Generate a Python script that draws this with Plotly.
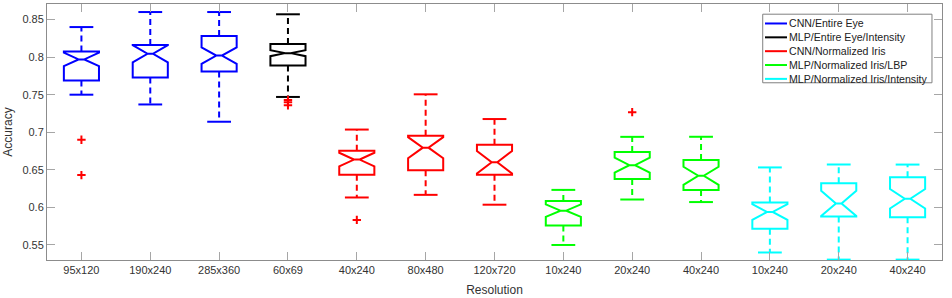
import plotly.graph_objects as go

# ---- data ----
tick_labels = ["95x120", "190x240", "285x360", "60x69", "40x240", "80x480", "120x720",
               "10x240", "20x240", "40x240", "10x240", "20x240", "40x240"]
groups = ["CNN/Entire Eye", "MLP/Entire Eye/Intensity", "CNN/Normalized Iris",
          "MLP/Normalized Iris/LBP", "MLP/Normalized Iris/Intensity"]
group_of_box = [0, 0, 0, 1, 2, 2, 2, 3, 3, 3, 4, 4, 4]
group_colors = ["#0000ff", "#000000", "#ff0000", "#00ff00", "#00ffff"]

upper_whisker = [0.840, 0.860, 0.860, 0.857, 0.7036, 0.7505, 0.7176, 0.6233, 0.6939, 0.694, 0.6532, 0.6571, 0.657]
q3_vals       = [0.8075, 0.816, 0.828, 0.8176, 0.6755, 0.6953, 0.6834, 0.6084, 0.6737, 0.6632, 0.6066, 0.6321, 0.640]
medians       = [0.797, 0.8045, 0.802, 0.8053, 0.6637, 0.6795, 0.6601, 0.5957, 0.6562, 0.6421, 0.5939, 0.6053, 0.6115]
q1_vals       = [0.769, 0.773, 0.781, 0.7887, 0.6434, 0.6496, 0.6434, 0.5759, 0.6378, 0.6233, 0.5716, 0.5878, 0.5868]
lower_whisker = [0.750, 0.737, 0.714, 0.747, 0.6132, 0.6167, 0.6036, 0.550, 0.6105, 0.6071, 0.540, 0.5305, 0.5305]
notch_spans   = [0.009, 0.0114, 0.011, 0.004, 0.009, 0.014, 0.015, 0.0083, 0.010, 0.012, 0.0105, 0.0167, 0.013]
outliers      = [[0.690, 0.643], [], [], [0.743, 0.740, 0.736], [0.5834], [], [], [], [0.7268], [], [], [], []]

y_ticks = [0.55, 0.6, 0.65, 0.7, 0.75, 0.8, 0.85]
y_tick_text = ["0.55", "0.6", "0.65", "0.7", "0.75", "0.8", "0.85"]

positions = list(range(1, len(tick_labels) + 1))

FONT = "Liberation Sans, Arial, sans-serif"

fig = go.Figure()

for g, (name, color) in enumerate(zip(groups, group_colors)):
    idx = [i for i, gb in enumerate(group_of_box) if gb == g]
    px = [positions[i] for i in idx]
    fig.add_trace(go.Box(
        x=px,
        q1=[q1_vals[i] for i in idx],
        median=[medians[i] for i in idx],
        q3=[q3_vals[i] for i in idx],
        lowerfence=[q1_vals[i] for i in idx],
        upperfence=[q3_vals[i] for i in idx],
        notchspan=[notch_spans[i] for i in idx],
        notched=True, notchwidth=0.42, width=0.51, whiskerwidth=0,
        line=dict(color=color, width=2), fillcolor="rgba(0,0,0,0)",
        boxpoints=False, hoverinfo="skip", showlegend=False,
    ))
    # dashed whiskers
    wx, wy = [], []
    for i in idx:
        wx += [positions[i], positions[i], None, positions[i], positions[i], None]
        wy += [q3_vals[i], upper_whisker[i], None, q1_vals[i], lower_whisker[i], None]
    fig.add_trace(go.Scatter(x=wx, y=wy, mode="lines",
                             line=dict(color=color, width=2, dash="6px,4px"),
                             hoverinfo="skip", showlegend=False))
    # whisker caps
    fig.add_trace(go.Scatter(
        x=px + px,
        y=[upper_whisker[i] for i in idx] + [lower_whisker[i] for i in idx],
        mode="markers",
        marker=dict(symbol="line-ew", size=17, line=dict(color=color, width=2)),
        hoverinfo="skip", showlegend=False, cliponaxis=False))

# outliers
ox, oy = [], []
for p, outs in zip(positions, outliers):
    for v in outs:
        ox.append(p)
        oy.append(v)
fig.add_trace(go.Scatter(x=ox, y=oy, mode="markers",
                         marker=dict(symbol="cross-thin", size=6, line=dict(color="#ff0000", width=2)),
                         hoverinfo="skip", showlegend=False))

# ---- legend (drawn as layout items to match the compact MATLAB legend) ----
shapes = [dict(type="rect", xref="paper", yref="paper", x0=0.7997, x1=0.9888, y0=0.6923, y1=0.9602,
               line=dict(color="#808080", width=1), fillcolor="white", layer="above")]
annotations = []
row_y0, row_step = 0.9239, 0.0541
for k, (name, color) in enumerate(zip(groups, group_colors)):
    yk = row_y0 - k * row_step
    shapes.append(dict(type="line", xref="paper", yref="paper", x0=0.8022, x1=0.8268, y0=yk, y1=yk,
                       line=dict(color=color, width=2), layer="above"))
    annotations.append(dict(xref="paper", yref="paper", x=0.8268, y=yk, xanchor="left", yanchor="middle",
                            text=name, showarrow=False, font=dict(family=FONT, size=10.6, color="#222222")))

axis_common = dict(showline=True, linecolor="#8c8c8c", linewidth=1, mirror="ticks",
                   ticks="inside", ticklen=8, tickcolor="#a6a6a6", tickwidth=1,
                   showgrid=False, zeroline=False,
                   tickfont=dict(family=FONT, size=11, color="#333333"))

fig.update_layout(
    width=952, height=298,
    margin=dict(l=47, r=10, t=3, b=36),
    paper_bgcolor="white", plot_bgcolor="white",
    font=dict(family=FONT, size=11, color="#333333"),
    xaxis=dict(range=[0.5, 13.5], tickvals=positions, ticktext=tick_labels,
               title=dict(text="Resolution", font=dict(size=12, color="#333333"), standoff=10),
               **axis_common),
    yaxis=dict(range=[0.530, 0.8707], tickvals=y_ticks, ticktext=y_tick_text,
               title=dict(text="Accuracy", font=dict(size=12, color="#333333"), standoff=7),
               **axis_common),
    shapes=shapes,
    annotations=annotations,
    showlegend=False,
)

fig.write_html("out.html", config={"displayModeBar": False},
               post_script="document.body.style.margin='0px';")
